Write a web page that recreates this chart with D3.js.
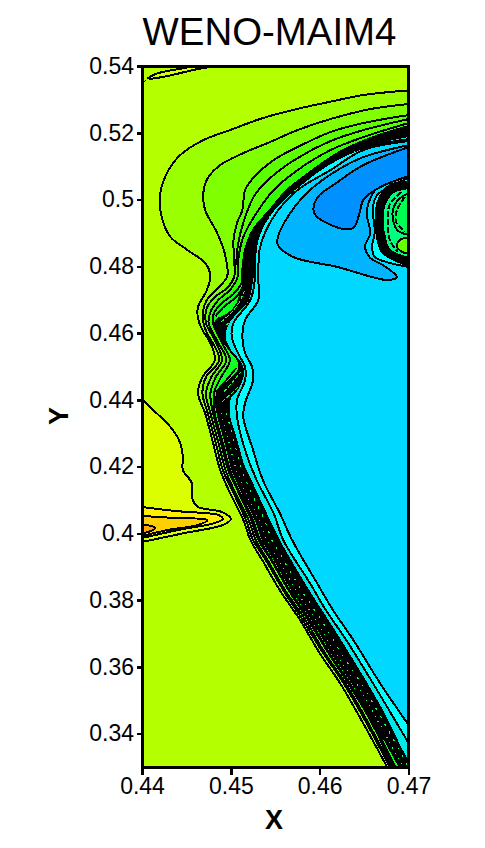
<!DOCTYPE html>
<html><head><meta charset="utf-8">
<script src="https://cdn.jsdelivr.net/npm/d3@7"></script>
<style>html,body{margin:0;padding:0;background:#fff}svg{display:block}</style>
</head><body><svg id="c" width="485" height="848"></svg>
<script>
const titleText = "WENO-MAIM4";
const xTicks = [0.44,0.45,0.46,0.47];
const yTicks = [0.34,0.36,0.38,0.40,0.42,0.44,0.46,0.48,0.50,0.52,0.54];
const yTickLabels = ["0.34","0.36","0.38","0.4","0.42","0.44","0.46","0.48","0.5","0.52","0.54"];
const xDomain = [0.44,0.47], yDomain = [0.33,0.54];
const corner = [[0.47,0.33]];

const level1 = [[0.47,0.5327],[0.4649,0.5313],[0.4612,0.5293],[0.4574,0.5271],[0.4536,0.5244],[0.4499,0.5208],[0.4469,0.5178],[0.4443,0.5133],[0.4428,0.5079],[0.4420,0.5008],[0.4423,0.4939],[0.4432,0.4888],[0.4451,0.4849],[0.4471,0.4810],[0.4477,0.4771],[0.4473,0.4729],[0.4463,0.4678],[0.4463,0.4645],[0.4468,0.4609],[0.4477,0.4570],[0.4482,0.4519],[0.4468,0.4468],[0.4463,0.4420],[0.4471,0.4360],[0.4480,0.4271],[0.4488,0.4190],[0.4499,0.4121],[0.4514,0.4040],[0.4522,0.3980],[0.4536,0.3917],[0.4555,0.3830],[0.4578,0.3740],[0.4600,0.3641],[0.4623,0.3551],[0.4645,0.3450],[0.4676,0.33]];
const level2 = [[0.47,0.5286],[0.4657,0.5271],[0.4612,0.5241],[0.4575,0.5208],[0.4544,0.5172],[0.4514,0.5139],[0.4488,0.5103],[0.4474,0.5064],[0.4469,0.5019],[0.4471,0.4969],[0.4484,0.4903],[0.4493,0.4840],[0.4496,0.4771],[0.4490,0.4747],[0.4473,0.4699],[0.4469,0.4669],[0.4469,0.4633],[0.4473,0.4600],[0.4481,0.4564],[0.4487,0.4519],[0.4472,0.4468],[0.4468,0.4420],[0.4474,0.4360],[0.4483,0.4271],[0.4491,0.4190],[0.4503,0.4121],[0.4517,0.4040],[0.4525,0.3980],[0.4540,0.3917],[0.4559,0.3830],[0.4581,0.3740],[0.4604,0.3641],[0.4627,0.3551],[0.4649,0.3450],[0.4679,0.33]];
const level3 = [[0.47,0.5253],[0.4649,0.5229],[0.4612,0.5202],[0.4575,0.5157],[0.4548,0.5118],[0.4525,0.5064],[0.4516,0.5028],[0.4513,0.4969],[0.4507,0.4930],[0.4503,0.4879],[0.4504,0.4810],[0.4504,0.4771],[0.4496,0.4735],[0.4482,0.4708],[0.4473,0.4675],[0.4472,0.4630],[0.4482,0.4579],[0.4490,0.4519],[0.4478,0.4468],[0.4472,0.4420],[0.4477,0.4360],[0.4486,0.4271],[0.4494,0.4190],[0.4505,0.4121],[0.4520,0.4040],[0.4528,0.3980],[0.4542,0.3917],[0.4561,0.3830],[0.4584,0.3740],[0.4606,0.3641],[0.4629,0.3551],[0.4651,0.3450],[0.4681,0.33]];
const level4 = [[0.47,0.5229],[0.4649,0.5187],[0.4612,0.5148],[0.4575,0.5088],[0.4548,0.5028],[0.4529,0.4960],[0.4514,0.4888],[0.4508,0.4810],[0.4508,0.4771],[0.4499,0.4729],[0.4486,0.4699],[0.4477,0.4663],[0.4475,0.4630],[0.4486,0.4570],[0.4495,0.4519],[0.4483,0.4468],[0.4477,0.4420],[0.4480,0.4360],[0.4489,0.4271],[0.4497,0.4190],[0.4509,0.4121],[0.4523,0.4040],[0.4531,0.3980],[0.4546,0.3917],[0.4565,0.3830],[0.4587,0.3740],[0.4610,0.3641],[0.4632,0.3551],[0.4655,0.3450],[0.4683,0.33]];
const level5 = [[0.47,0.5220],[0.4657,0.5184],[0.4620,0.5139],[0.4589,0.5082],[0.4563,0.5028],[0.4544,0.4969],[0.4525,0.4909],[0.4516,0.4849],[0.4513,0.4789],[0.4512,0.4750],[0.4503,0.4717],[0.4490,0.4690],[0.4481,0.4660],[0.4480,0.4630],[0.4490,0.4570],[0.4499,0.4519],[0.4489,0.4468],[0.4481,0.4420],[0.4482,0.4360],[0.4491,0.4271],[0.4499,0.4190],[0.4510,0.4121],[0.4525,0.4040],[0.4533,0.3980],[0.4547,0.3917],[0.4566,0.3830],[0.4589,0.3740],[0.4611,0.3641],[0.4634,0.3551],[0.4657,0.3450],[0.4685,0.33]];
const coreOuter = [[0.47,0.5214],[0.4657,0.5178],[0.4620,0.5133],[0.4589,0.5076],[0.4563,0.5022],[0.4544,0.4963],[0.4525,0.4903],[0.4516,0.4843],[0.4514,0.4789],[0.4514,0.4750],[0.4510,0.4708],[0.4505,0.4678],[0.4495,0.4654],[0.4484,0.4639],[0.4482,0.4615],[0.4490,0.4579],[0.4501,0.4543],[0.4509,0.4513],[0.4509,0.4489],[0.4500,0.4462],[0.4488,0.4432],[0.4483,0.4405],[0.4485,0.4360],[0.4494,0.4271],[0.4502,0.4190],[0.4513,0.4121],[0.4528,0.4040],[0.4536,0.3980],[0.4550,0.3917],[0.4569,0.3830],[0.4592,0.3740],[0.4614,0.3641],[0.4637,0.3551],[0.4659,0.3450],[0.4690,0.33]];
const coreInner = [[0.47,0.5190],[0.4665,0.5169],[0.4631,0.5127],[0.4597,0.5067],[0.4567,0.4998],[0.4548,0.4939],[0.4533,0.4879],[0.4527,0.4810],[0.4524,0.4759],[0.4519,0.4699],[0.4506,0.4660],[0.4497,0.4630],[0.4493,0.4588],[0.4499,0.4549],[0.4510,0.4513],[0.4514,0.4483],[0.4508,0.4435],[0.4499,0.4405],[0.4498,0.4354],[0.4506,0.4280],[0.4514,0.4205],[0.4522,0.4160],[0.4535,0.4085],[0.4554,0.3980],[0.4587,0.3830],[0.4623,0.3680],[0.4668,0.3480],[0.4694,0.3342],[0.47,0.3315]];
const cyanEdge = [[0.47,0.5181],[0.4649,0.5154],[0.4612,0.5109],[0.4575,0.5037],[0.4548,0.4969],[0.4531,0.4888],[0.4527,0.4810],[0.4527,0.4759],[0.4522,0.4699],[0.4503,0.4630],[0.4501,0.4588],[0.4508,0.4540],[0.4516,0.4498],[0.4516,0.4459],[0.4507,0.4399],[0.4507,0.4348],[0.4516,0.4250],[0.4529,0.4160],[0.4548,0.4061],[0.4559,0.3980],[0.4589,0.3851],[0.4607,0.3770],[0.4630,0.3680],[0.4660,0.3551],[0.47,0.3372]];
const mainEdge = [[0.47,0.5175],[0.4649,0.5148],[0.4612,0.5088],[0.4575,0.5028],[0.4548,0.4948],[0.4533,0.4858],[0.4531,0.4759],[0.4531,0.4699],[0.4516,0.4639],[0.4513,0.4588],[0.4516,0.4540],[0.4524,0.4498],[0.4525,0.4459],[0.4516,0.4390],[0.4514,0.4348],[0.4525,0.4250],[0.4536,0.4160],[0.4555,0.4061],[0.4569,0.3980],[0.4597,0.3851],[0.4615,0.3770],[0.4638,0.3680],[0.4668,0.3551],[0.47,0.3426]];
const blueLobe = [[0.47,0.5163],[0.4649,0.5127],[0.4620,0.5088],[0.4589,0.5028],[0.4567,0.4960],[0.4553,0.4888],[0.4553,0.4864],[0.4570,0.4828],[0.4620,0.4798],[0.4676,0.4759],[0.4687,0.4768],[0.4671,0.4804],[0.4657,0.4825],[0.4651,0.4858],[0.4657,0.4900],[0.4653,0.4960],[0.4660,0.5019],[0.4671,0.5050],[0.47,0.5076]];
const deepBlue = [[0.47,0.5157],[0.4649,0.5103],[0.4620,0.5052],[0.4598,0.5008],[0.4593,0.4969],[0.4597,0.4948],[0.4626,0.4912],[0.4638,0.4915],[0.4645,0.4960],[0.4649,0.4998],[0.4668,0.5037],[0.47,0.5070]];
const blobCyan = [[0.47,0.5064],[0.4665,0.5014],[0.4660,0.4978],[0.4662,0.4900],[0.4659,0.4858],[0.4662,0.4828],[0.4679,0.4810],[0.47,0.4798]];
const blobDark = [[0.47,0.5052],[0.4679,0.5043],[0.4666,0.4998],[0.4663,0.4948],[0.4666,0.4870],[0.4671,0.4840],[0.47,0.4801]];
const blobGreen = [[0.47,0.5034],[0.4683,0.5022],[0.4674,0.4990],[0.4671,0.4948],[0.4674,0.4879],[0.4679,0.4849],[0.47,0.4825]];
const blobBright = [[0.47,0.5019],[0.4688,0.4998],[0.4682,0.4960],[0.4687,0.4909],[0.47,0.4894]];
const blobLime = [[0.47,0.4885],[0.4690,0.4879],[0.4687,0.4858],[0.4693,0.4843],[0.47,0.4837]];
const blobLineA = [[0.4692,0.5022],[0.4679,0.4987],[0.4677,0.4948],[0.4679,0.4879],[0.4688,0.4843]];
const blobLineB = [[0.4696,0.5008],[0.4687,0.4969],[0.4686,0.4933],[0.4696,0.4903]];
const warm1 = [[0.44,0.4402],[0.4409,0.4378],[0.4420,0.4351],[0.4435,0.4309],[0.4443,0.4271],[0.4446,0.4229],[0.4446,0.4190],[0.4456,0.4151],[0.4457,0.4100],[0.4463,0.4079],[0.4490,0.4064],[0.4500,0.4043],[0.4491,0.4025],[0.4448,0.4001],[0.44,0.3974]];
const warm2 = [[0.44,0.4079],[0.4437,0.4067],[0.4468,0.4061],[0.4486,0.4055],[0.4491,0.4043],[0.4482,0.4031],[0.4441,0.4010],[0.44,0.3986]];
const warm3 = [[0.44,0.4052],[0.4437,0.4046],[0.4474,0.4040],[0.4463,0.4025],[0.4429,0.4010],[0.44,0.3992]];
const warm4 = [[0.44,0.4025],[0.4411,0.4022],[0.4415,0.4016],[0.4407,0.4004],[0.44,0.4001]];
const topSliver = [[0.4407,0.5364],[0.4415,0.5376],[0.4429,0.5385],[0.4448,0.5394],[0.4456,0.54],[0.4482,0.54],[0.4463,0.5391],[0.4448,0.5382],[0.4429,0.5370],[0.4409,0.5361]];
const topDot = [[0.4403,0.5355],[0.4404,0.5354]];
const arcExtra = [[0.47,0.5241],[0.4649,0.5208],[0.4612,0.5175],[0.4575,0.5124],[0.4548,0.5073],[0.4527,0.5014],[0.4515,0.4939],[0.4508,0.4864],[0.4506,0.4804]];
const lobeUpLine = [[0.4483,0.4651],[0.4493,0.4681],[0.4505,0.4705],[0.4514,0.4738]];
const lobeLowLine = [[0.4483,0.4423],[0.4495,0.4459],[0.4506,0.4495]];
const lobeGreenA = [[0.4489,0.4633],[0.4500,0.4660],[0.4509,0.4690],[0.4515,0.4725]];
const lobeGreenB = [[0.4495,0.4624],[0.4506,0.4651],[0.4514,0.4678]];
const lobeGreenC = [[0.4492,0.4423],[0.4502,0.4453],[0.4511,0.4483]];
const lobeGreenD = [[0.4490,0.4393],[0.4501,0.4420],[0.4510,0.4444]];
const speckY = [0.4360,0.4271,0.4190,0.4121,0.4040,0.3980,0.3917,0.3830,0.3740,0.3641,0.3551,0.3450,0.33];
const speck1X = [0.4489,0.4498,0.4506,0.4517,0.4532,0.4540,0.4554,0.4573,0.4596,0.4618,0.4641,0.4663,0.4694];
const speck2X = [0.4495,0.4504,0.4512,0.4523,0.4538,0.4546,0.4560,0.4579,0.4602,0.4624,0.4647,0.4669,0.4700];
const speckArc = [[0.4640,0.5145],[0.4610,0.5100],[0.4580,0.5045],[0.4555,0.4985],[0.4535,0.4925]];

const margin = {left:142,right:408.5,top:66,bottom:767};
const x = d3.scaleLinear().domain(xDomain).range([margin.left,margin.right]);
const y = d3.scaleLinear().domain(yDomain).range([margin.bottom,margin.top]);
const svg = d3.select("#c");
const font = "'Liberation Sans',Arial,sans-serif";
const line = d3.line().x(d=>x(d[0])).y(d=>y(d[1]));
const smooth = d3.line().x(d=>x(d[0])).y(d=>y(d[1])).curve(d3.curveCatmullRom.alpha(0.5));

svg.append("defs").append("clipPath").attr("id","plot").append("rect")
  .attr("x",x(xDomain[0])).attr("y",y(yDomain[1]))
  .attr("width",x(xDomain[1])-x(xDomain[0])).attr("height",y(yDomain[0])-y(yDomain[1]));

const g = svg.append("g").attr("clip-path","url(#plot)");
g.append("rect").attr("x",x(xDomain[0])).attr("y",y(yDomain[1]))
  .attr("width",x(xDomain[1])-x(xDomain[0])).attr("height",y(yDomain[0])-y(yDomain[1])).attr("fill","#b4ff00");

// open contour with closure along the frame
const closed = (pts,close) => smooth(pts) + (close ? "L"+close.map(d=>x(d[0])+","+y(d[1])).join("L") : "") + "Z";
const regions = [
  [warm1,null,"#dcff00"],[warm2,null,"#ffee00"],[warm3,null,"#ffd000"],[warm4,null,"#ffa600"],[topSliver,null,"#dcff00"],
  [level1,corner,"#9aff00"],[level2,corner,"#80ff00"],[level3,corner,"#5cff00"],
  [level4,corner,"#33ff00"],[level5,corner,"#10ff20"],[coreOuter,corner,"#000000"],
  [coreInner,null,"#00e8e8"],[cyanEdge,null,"#00ffff"],[mainEdge,null,"#00d8ff"],[blueLobe,null,"#00b4ff"],[deepBlue,null,"#0090ff"],
  [blobCyan,null,"#00ffff"],[blobDark,null,"#000000"],[blobGreen,null,"#00ff80"],[blobBright,null,"#00ff50"],[blobLime,null,"#66ff00"]
];
g.selectAll("path.r").data(regions).join("path").attr("class","r")
  .attr("d",d=>closed(d[0],d[1])).attr("fill",d=>d[2]).attr("stroke","#000").attr("stroke-width",2)
  .attr("shape-rendering","crispEdges");

[arcExtra,lobeUpLine,lobeLowLine].forEach(a=>g.append("path").attr("d",smooth(a)).attr("fill","none").attr("stroke","#000")
  .attr("stroke-width",2).attr("shape-rendering","crispEdges"));
[blobLineA,blobLineB].forEach(a=>g.append("path").attr("d",smooth(a)).attr("fill","none").attr("stroke","#000")
  .attr("stroke-width",2).attr("stroke-dasharray","6 2").attr("shape-rendering","crispEdges"));
g.append("path").attr("d",line(topDot)).attr("fill","none").attr("stroke","#000").attr("stroke-width",2).attr("shape-rendering","crispEdges");

[lobeGreenA,lobeGreenB,lobeGreenC,lobeGreenD].forEach(a=>g.append("path").attr("d",smooth(a)).attr("fill","none")
  .attr("stroke","#14ff3c").attr("stroke-width",1).attr("stroke-dasharray","4 2").attr("shape-rendering","crispEdges"));

[speck1X,speck2X].forEach((xs,i)=>g.append("path").attr("d",line(xs.map((v,j)=>[v,speckY[j]])))
  .attr("fill","none").attr("stroke","#14ff5a").attr("stroke-width",1.2).attr("stroke-dasharray",i?"2 7":"1 5")
  .attr("shape-rendering","crispEdges"));
g.append("path").attr("d",line(speckArc)).attr("fill","none").attr("stroke","#14ff5a").attr("stroke-width",1)
  .attr("stroke-dasharray","1 11").attr("shape-rendering","crispEdges");

const ax = svg.append("g").attr("transform",`translate(0,${margin.bottom})`)
  .call(d3.axisBottom(x).tickValues(xTicks).tickFormat(d3.format(".2f")).tickSize(8).tickPadding(3).tickSizeOuter(0));
const ay = svg.append("g").attr("transform",`translate(${margin.left},0)`)
  .call(d3.axisLeft(y).tickValues(yTicks).tickFormat((d,i)=>yTickLabels[i]).tickSize(5).tickPadding(3).tickSizeOuter(0));
[ax,ay].forEach(a=>{
  a.select(".domain").remove();
  a.selectAll("line").attr("stroke","#000").attr("stroke-width",2.5).attr("shape-rendering","crispEdges");
  a.selectAll("text").attr("fill","#000").attr("font-family",font).attr("font-size",23);
});
svg.append("rect").attr("x",margin.left).attr("y",margin.top)
  .attr("width",margin.right-margin.left).attr("height",margin.bottom-margin.top)
  .attr("fill","none").attr("stroke","#000").attr("stroke-width",3).attr("shape-rendering","crispEdges");

svg.append("text").attr("x",269.5).attr("y",45).attr("text-anchor","middle")
  .attr("font-family",font).attr("font-size",38.4).attr("fill","#000").text(titleText);
svg.append("text").attr("x",274).attr("y",829).attr("text-anchor","middle")
  .attr("font-family",font).attr("font-weight","bold").attr("font-size",27).attr("fill","#000").text("X");
svg.append("text").attr("transform","translate(68,416) rotate(-90)").attr("text-anchor","middle")
  .attr("font-family",font).attr("font-weight","bold").attr("font-size",27).attr("fill","#000").text("Y");
</script></body></html>
